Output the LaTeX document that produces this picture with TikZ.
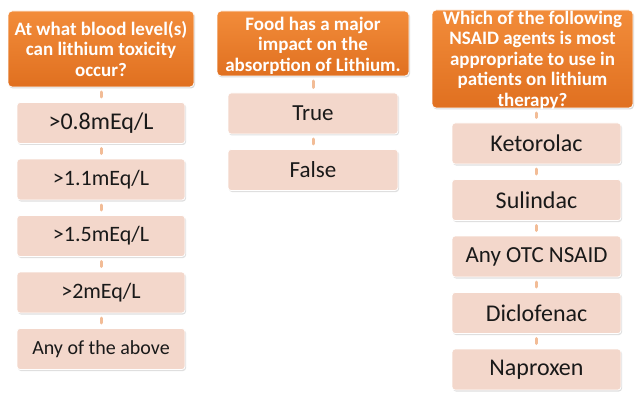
\documentclass[tikz,border=0pt]{standalone}
\usepackage{fontspec}
\setmainfont{Carlito}
\usetikzlibrary{positioning}
\usetikzlibrary{shadows}
\definecolor{Q-TOP}{RGB}{242,140,58}
\definecolor{Q-BOT}{RGB}{224,112,32}
\definecolor{A-FILL}{RGB}{243,215,203}
\definecolor{LINK}{RGB}{242,188,150}

\begin{document}
\begin{tikzpicture}[x=1pt,y=-1pt,node distance=15.5pt,
	qbox/.style={draw=white,line width=0.8pt,rounded corners=4pt,top color=Q-TOP,bottom color=Q-BOT,
		outer sep=0pt,drop shadow={opacity=0.3,shadow xshift=1pt,shadow yshift=-1.5pt}},
	qtext/.style={text=white,font=\fontsize{19}{20.5}\selectfont\bfseries,align=center,inner sep=0pt},
	abox/.style={draw=white,line width=0.8pt,rounded corners=3pt,fill=A-FILL,text=black!90,
		minimum height=41pt,outer sep=0pt,font=\fontsize{23}{26}\selectfont,
		drop shadow={opacity=0.25,shadow xshift=1pt,shadow yshift=-1.5pt}},
	link/.style={draw=LINK,line width=3pt,line cap=round,shorten <=5pt,shorten >=5.5pt}]
			\useasboundingbox (0,0) rectangle (637,393);

			% draw question boxes
			\node (q_level) at (101,49) [qbox,minimum width=186pt,minimum height=76pt] {};
			\node (q_food) at (313,43.5) [qbox,minimum width=192pt,minimum height=65pt] {};
			\node (q_nsaid) at (532.5,59) [qbox,minimum width=201pt,minimum height=98pt] {};

			% question texts
			\node (t_level) at (q_level) [qtext] {At what blood level(s)\\can lithium toxicity\\occur?};
			\node (t_food) at ([yshift=-2pt]q_food.center) [qtext] {Food has a major\\impact on the\\absorption of Lithium.};
			\node (t_nsaid) at ([yshift=-1pt]q_nsaid.center) [qtext] {Which of the following\\NSAID agents is most\\appropriate to use in\\patients on lithium\\therapy?};

			% draw answers, first column
			\node (a_08) [abox,minimum width=168pt,below=of q_level,font=\fontsize{24}{26}\selectfont] {>0.8mEq/L};
			\node (a_11) [abox,minimum width=168pt,below=of a_08,font=\fontsize{22}{26}\selectfont] {>1.1mEq/L};
			\node (a_15) [abox,minimum width=168pt,below=of a_11,font=\fontsize{22}{26}\selectfont] {>1.5mEq/L};
			\node (a_2) [abox,minimum width=168pt,below=of a_15,font=\fontsize{22}{26}\selectfont] {>2mEq/L};
			\node (a_any) [abox,minimum width=168pt,below=of a_2,font=\fontsize{20}{24}\selectfont] {Any of the above};

			% second column
			\node (a_true) [abox,minimum width=170pt,below=17pt of q_food] {True};
			\node (a_false) [abox,minimum width=170pt,below=of a_true] {False};

			% third column
			\node (a_keto) [abox,minimum width=169pt,below=15pt of q_nsaid,xshift=4pt,font=\fontsize{24}{26}\selectfont] {Ketorolac};
			\node (a_suli) [abox,minimum width=169pt,below=of a_keto,font=\fontsize{24}{26}\selectfont] {Sulindac};
			\node (a_otc) [abox,minimum width=169pt,below=of a_suli] {Any OTC NSAID};
			\node (a_diclo) [abox,minimum width=169pt,below=of a_otc,font=\fontsize{24}{26}\selectfont] {Diclofenac};
			\node (a_napro) [abox,minimum width=169pt,below=of a_diclo,font=\fontsize{24}{26}\selectfont] {Naproxen};

			% draw links
			\foreach \a/\b in {q_level/a_08,a_08/a_11,a_11/a_15,a_15/a_2,a_2/a_any,
				q_food/a_true,a_true/a_false,
				q_nsaid/a_keto,a_keto/a_suli,a_suli/a_otc,a_otc/a_diclo,a_diclo/a_napro}
				\draw[link] (\a.south -| \b) -- (\b.north);
		\end{tikzpicture}
\end{document}
